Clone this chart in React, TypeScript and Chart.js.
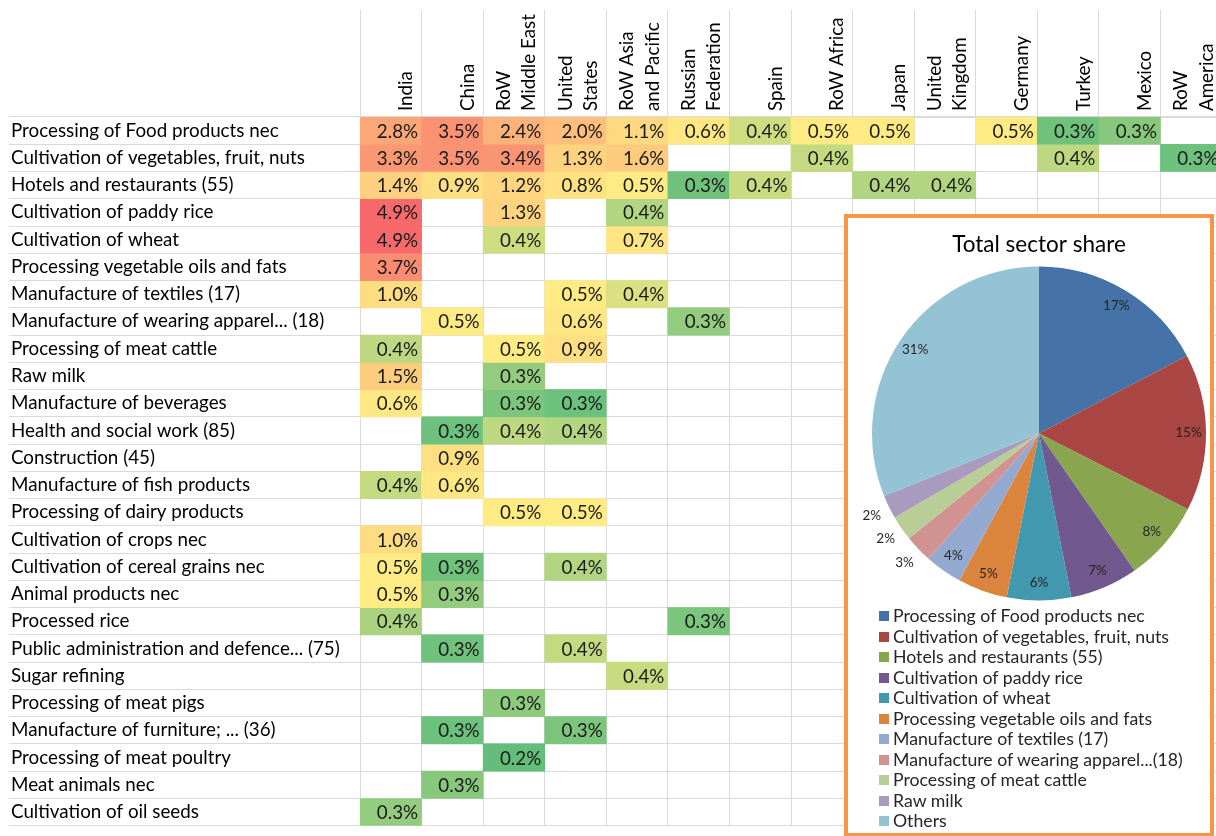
import React, { useEffect, useRef } from 'react';
import { Chart, registerables } from 'chart.js';

Chart.register(...registerables);

const FONT = 'Lato, "Open Sans", sans-serif';
const GRID = '#DADADA';
const TABLE_FONT_SIZE = 18.8;

// ---------- Heat table data ----------
const sectors = [
  'Processing of Food products nec',
  'Cultivation of vegetables, fruit, nuts',
  'Hotels and restaurants (55)',
  'Cultivation of paddy rice',
  'Cultivation of wheat',
  'Processing vegetable oils and fats',
  'Manufacture of textiles (17)',
  'Manufacture of wearing apparel... (18)',
  'Processing of meat cattle',
  'Raw milk',
  'Manufacture of beverages',
  'Health and social work (85)',
  'Construction (45)',
  'Manufacture of fish products',
  'Processing of dairy products',
  'Cultivation of crops nec',
  'Cultivation of cereal grains nec',
  'Animal products nec',
  'Processed rice',
  'Public administration and defence... (75)',
  'Sugar refining',
  'Processing of meat pigs',
  'Manufacture of furniture; ... (36)',
  'Processing of meat poultry',
  'Meat animals nec',
  'Cultivation of oil seeds',
];

const countries: string[][] = [
  ['India'],
  ['China'],
  ['RoW', 'Middle East'],
  ['United', 'States'],
  ['RoW Asia', 'and Pacific'],
  ['Russian', 'Federation'],
  ['Spain'],
  ['RoW Africa'],
  ['Japan'],
  ['United', 'Kingdom'],
  ['Germany'],
  ['Turkey'],
  ['Mexico'],
  ['RoW', 'America'],
];

const _ = null;
// share (%) per sector row, one list per country column
const india = [2.8, 3.3, 1.4, 4.9, 4.9, 3.7, 1.0, _, 0.39, 1.5, 0.6, _, _, 0.4, _, 1.0, 0.5, 0.5, 0.36, _, _, _, _, _, _, 0.32];
const china = [3.5, 3.5, 0.9, _, _, _, _, 0.5, _, _, _, 0.255, 0.9, 0.6, _, _, 0.26, 0.32, _, 0.26, _, _, 0.255, _, 0.3, _];
const rowMiddleEast = [2.4, 3.4, 1.2, 1.3, 0.42, _, _, _, 0.5, 0.32, 0.28, 0.39, _, _, 0.5, _, _, _, _, _, _, 0.31, _, 0.24, _, _];
const unitedStates = [2.0, 1.3, 0.8, _, _, _, 0.5, 0.6, 0.9, _, 0.255, 0.37, _, _, 0.5, _, 0.37, _, _, 0.4, _, _, 0.28, _, _, _];
const rowAsiaPacific = [1.1, 1.6, 0.5, 0.37, 0.7, _, 0.44, _, _, _, _, _, _, _, _, _, _, _, _, _, 0.41, _, _, _, _, _];
const russia = [0.6, _, 0.26, _, _, _, _, 0.32, _, _, _, _, _, _, _, _, _, _, 0.28, _, _, _, _, _, _, _];
const spain = [0.42, _, 0.41, _, _, _, _, _, _, _, _, _, _, _, _, _, _, _, _, _, _, _, _, _, _, _];
const rowAfrica = [0.5, 0.4, _, _, _, _, _, _, _, _, _, _, _, _, _, _, _, _, _, _, _, _, _, _, _, _];
const japan = [0.5, _, 0.37, _, _, _, _, _, _, _, _, _, _, _, _, _, _, _, _, _, _, _, _, _, _, _];
const unitedKingdom = [_, _, 0.37, _, _, _, _, _, _, _, _, _, _, _, _, _, _, _, _, _, _, _, _, _, _, _];
const germany = [0.5, _, _, _, _, _, _, _, _, _, _, _, _, _, _, _, _, _, _, _, _, _, _, _, _, _];
const turkey = [0.26, 0.39, _, _, _, _, _, _, _, _, _, _, _, _, _, _, _, _, _, _, _, _, _, _, _, _];
const mexico = [0.3, _, _, _, _, _, _, _, _, _, _, _, _, _, _, _, _, _, _, _, _, _, _, _, _, _];
const rowAmerica = [_, 0.255, _, _, _, _, _, _, _, _, _, _, _, _, _, _, _, _, _, _, _, _, _, _, _, _];

const columns: (number | null)[][] = [
  india, china, rowMiddleEast, unitedStates, rowAsiaPacific, russia, spain,
  rowAfrica, japan, unitedKingdom, germany, turkey, mexico, rowAmerica,
];

// ---------- Pie data ----------
const pieTitle = 'Total sector share';
const pieLabels = [
  'Processing of Food products nec',
  'Cultivation of vegetables, fruit, nuts',
  'Hotels and restaurants (55)',
  'Cultivation of paddy rice',
  'Cultivation of wheat',
  'Processing vegetable oils and fats',
  'Manufacture of textiles (17)',
  'Manufacture of wearing apparel...(18)',
  'Processing of meat cattle',
  'Raw milk',
  'Others',
];
const pieShares = [17.3, 15.2, 7.8, 6.6, 6.2, 4.8, 3.6, 2.7, 2.4, 2.3, 31.1];
const pieColors = [
  '#4572A7', '#AA4643', '#89A54E', '#71588F', '#4198AF', '#DB843D',
  '#93A9CF', '#D19392', '#B9CD96', '#A99BBD', '#93C3D5',
];

// ---------- colour scale (green - yellow - red, midpoint = median) ----------
const allVals = columns.flat().filter((v) => v != null) as number[];
const vMin = Math.min(...allVals);
const vMax = Math.max(...allVals);
const sorted = [...allVals].sort((a, b) => a - b);
const vMid = sorted[Math.floor(sorted.length / 2)];
const LOW = [99, 190, 123];
const MIDC = [255, 235, 132];
const HIGH = [248, 105, 107];
function mix(a: number[], b: number[], t: number) {
  const c = a.map((x, i) => Math.round(x + (b[i] - x) * Math.max(0, Math.min(1, t))));
  return `rgb(${c[0]},${c[1]},${c[2]})`;
}
function heatColor(v: number) {
  if (v <= vMid) return mix(LOW, MIDC, (v - vMin) / (vMid - vMin));
  return mix(MIDC, HIGH, (v - vMid) / (vMax - vMid));
}

const cellTextPlugin = {
  id: 'cellText',
  afterDatasetsDraw(chart: any) {
    const ctx = chart.ctx;
    ctx.save();
    ctx.font = `${TABLE_FONT_SIZE}px ${FONT}`;
    ctx.fillStyle = '#1a1a1a';
    ctx.textAlign = 'right';
    ctx.textBaseline = 'middle';
    chart.data.datasets.forEach((ds: any, r: number) => {
      const meta = chart.getDatasetMeta(r);
      meta.data.forEach((bar: any, c: number) => {
        const v = columns[c][r];
        if (v == null) return;
        const p = bar.getProps(['x', 'y', 'base', 'width'], true);
        ctx.fillText(v.toFixed(1) + '%', p.x + p.width / 2 - 3.5, (p.y + p.base) / 2 + 1);
      });
    });
    ctx.restore();
  },
};

const pieLabelPlugin = {
  id: 'pieLabels',
  afterDatasetsDraw(chart: any) {
    const ctx = chart.ctx;
    const meta = chart.getDatasetMeta(0);
    ctx.save();
    ctx.font = `13.5px ${FONT}`;
    ctx.fillStyle = '#262626';
    ctx.textAlign = 'center';
    ctx.textBaseline = 'middle';
    meta.data.forEach((arc: any, i: number) => {
      const p = arc.getProps(['x', 'y', 'startAngle', 'endAngle', 'outerRadius'], true);
      const a = (p.startAngle + p.endAngle) / 2;
      const share = pieShares[i];
      const r = share < 3.5 ? p.outerRadius * 1.115 : p.outerRadius * 0.895;
      ctx.fillText(Math.round(share) + '%', p.x + Math.cos(a) * r, p.y + Math.sin(a) * r);
    });
    ctx.restore();
  },
};

function makeHtmlLegend(container: HTMLDivElement) {
  return {
    id: 'htmlLegend',
    afterUpdate(chart: any) {
      const items = chart.options.plugins.legend.labels.generateLabels(chart);
      container.innerHTML = '';
      items.forEach((item: any) => {
        const row = document.createElement('div');
        row.style.display = 'flex';
        row.style.alignItems = 'center';
        row.style.height = '20.5px';
        const box = document.createElement('span');
        box.style.display = 'inline-block';
        box.style.width = '10px';
        box.style.height = '10px';
        box.style.marginRight = '4px';
        box.style.flex = '0 0 10px';
        box.style.background = item.fillStyle;
        const txt = document.createElement('span');
        txt.textContent = item.text;
        row.appendChild(box);
        row.appendChild(txt);
        container.appendChild(row);
      });
    },
  };
}

export default function App() {
  const heatRef = useRef<HTMLCanvasElement>(null);
  const pieRef = useRef<HTMLCanvasElement>(null);
  const legendRef = useRef<HTMLDivElement>(null);

  useEffect(() => {
    const datasets = sectors.map((s, r) => ({
      label: s,
      data: columns.map((col) => (col[r] == null ? null : [r, r + 1])),
      backgroundColor: columns.map((col) => (col[r] == null ? 'rgba(0,0,0,0)' : heatColor(col[r] as number))),
      borderWidth: 0,
      barPercentage: 1,
      categoryPercentage: 1,
      grouped: false,
    }));

    const heat = new Chart(heatRef.current!, {
      type: 'bar',
      data: { labels: countries.map((c) => c.join(' ')), datasets: datasets as any },
      options: {
        responsive: false,
        animation: false,
        layout: { padding: { left: 11, top: 10, right: 0, bottom: 0 } },
        plugins: { legend: { display: false }, tooltip: { enabled: false } },
        scales: {
          x: {
            type: 'category',
            position: 'top',
            grid: { color: GRID, tickColor: GRID, tickLength: 107, offset: true },
            border: { color: GRID },
            ticks: {
              autoSkip: false,
              maxRotation: 90,
              minRotation: 90,
              padding: -101,
              labelOffset: 41,
              color: '#000',
              font: { family: FONT, size: TABLE_FONT_SIZE, lineHeight: '25.5px' },
              callback: (_v: any, i: number) => (countries[i].length === 1 ? ['', countries[i][0]] : countries[i]),
            },
            afterFit: (s: any) => { s.height = 107; },
          },
          y: {
            type: 'linear',
            reverse: true,
            min: 0,
            max: sectors.length,
            afterBuildTicks: (s: any) => { s.ticks = sectors.map((_s, i) => ({ value: i + 0.5 })); },
            grid: { color: GRID, tickColor: GRID, tickLength: 351, offset: true },
            border: { color: GRID },
            ticks: {
              autoSkip: false,
              crossAlign: 'far',
              color: '#000',
              font: { family: FONT, size: TABLE_FONT_SIZE },
              callback: (_v: any, i: number) => sectors[i],
            },
            afterFit: (s: any) => { s.width = 349; },
          },
        },
      } as any,
      plugins: [cellTextPlugin],
    });

    const pie = new Chart(pieRef.current!, {
      type: 'pie',
      data: {
        labels: pieLabels,
        datasets: [{ data: pieShares, backgroundColor: pieColors, borderWidth: 0, radius: 167 } as any],
      },
      options: {
        responsive: false,
        animation: false,
        layout: { padding: { left: 20, right: 0, top: 0, bottom: 0 } },
        plugins: {
          legend: { display: false },
          tooltip: { enabled: false },
          title: {
            display: true,
            text: pieTitle,
            color: '#000',
            font: { family: FONT, size: 22.5, weight: 'normal', lineHeight: 1.2 },
            padding: { top: 13, bottom: 0 },
          },
        },
      } as any,
      plugins: [pieLabelPlugin, makeHtmlLegend(legendRef.current!)],
    });

    return () => {
      heat.destroy();
      pie.destroy();
    };
  }, []);

  return (
    <div style={{ position: 'absolute', left: 0, top: 0, width: 1216, height: 836, overflow: 'hidden', background: '#fff' }}>
      <canvas ref={heatRef} width={1222} height={840} style={{ position: 'absolute', left: 0, top: 0, width: 1222, height: 840 }} />
      <div style={{ position: 'absolute', left: 844, top: 214, width: 370, height: 623, boxSizing: 'border-box', border: '4px solid #F79646', background: '#fff' }} />
      <canvas ref={pieRef} width={362} height={391} style={{ position: 'absolute', left: 848, top: 218, width: 362, height: 391 }} />
      <div ref={legendRef} style={{ position: 'absolute', left: 879, top: 606, fontFamily: FONT, fontSize: 17.7, color: '#262626', lineHeight: '20.5px', whiteSpace: 'nowrap' }} />
    </div>
  );
}
